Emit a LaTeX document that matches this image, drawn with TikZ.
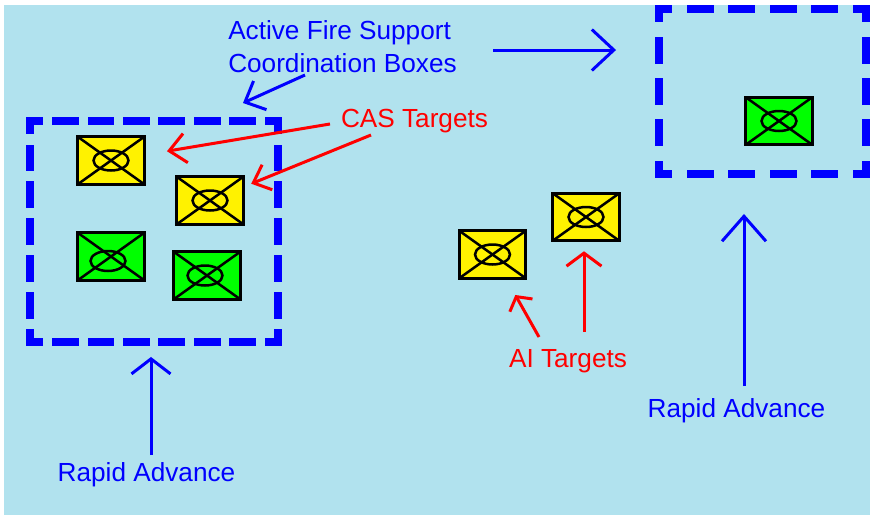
\documentclass[tikz,border=0pt]{standalone}
\usepackage{fontspec}
\setmainfont{Liberation Sans}
\usetikzlibrary{arrows.meta}
\definecolor{skyground}{RGB}{177,226,238}

\begin{document}
\begin{tikzpicture}[x=0.02cm,y=-0.02cm,
  unit/.style={draw,line width=0.6mm,inner sep=0,minimum width=13.3mm,minimum height=9.5mm,
    path picture={
      \draw[line width=0.5mm](path picture bounding box.north west)--(path picture bounding box.south east);
      \draw[line width=0.5mm](path picture bounding box.south west)--(path picture bounding box.north east);
      \draw[line width=0.5mm]([shift={(#1)}]path picture bounding box.center) ellipse (3.5mm and 2mm);
    }},
  unit/.default={0,0},
  fscb/.style={blue,line width=1.6mm,line cap=rect},
  dashlong/.style={dash pattern=on 3.74mm off #1,dash phase=1.87mm},
  txt/.style={font=\fontsize{14.9}{18.7}\selectfont,inner sep=0,align=left},
  barb/.style 2 args={-{Straight Barb[length=#1,width=#2]},line width=0.6mm}
  ]
  \useasboundingbox (0,0) rectangle (870,515);
  \fill[skyground] (4,5) rectangle (870,515);

  \node[minimum width=4.96cm,minimum height=4.42cm,inner sep=0,outer sep=0] (boxL) at (154,231.5){};
  \node[minimum width=4.14cm,minimum height=3.3cm,inner sep=0,outer sep=0] (boxR) at (762.5,91.5){};
  % sides one by one, so every corner stays whole
  \draw[fscb,dashlong=3.35mm](boxL.north west)--(boxL.north east);
  \draw[fscb,dashlong=3.35mm](boxL.south west)--(boxL.south east);
  \draw[fscb,dashlong=3.63mm](boxL.north west)--(boxL.south west);
  \draw[fscb,dashlong=3.63mm](boxL.north east)--(boxL.south east);
  \draw[fscb,dashlong=4.54mm](boxR.north west)--(boxR.north east);
  \draw[fscb,dashlong=4.54mm](boxR.south west)--(boxR.south east);
  \draw[fscb,dashlong=4.51mm](boxR.north west)--(boxR.south west);
  \draw[fscb,dashlong=4.51mm](boxR.north east)--(boxR.south east);

  \node[unit,fill=yellow] (unitA) at (111,160.5){};
  \node[unit,fill=yellow] (unitB) at (210,200.5){};
  \node[unit={-3,4.5},fill=green] (unitC) at (111,256.5){};
  \node[unit={-2,0},fill=green] (unitD) at (207,275.5){};
  \node[unit,fill=green] (unitE) at (779,121){};
  \node[unit,fill=yellow] (unitF) at (492.5,254.5){};
  \node[unit,fill=yellow] (unitG) at (586,217){};

  \node[txt,blue] (fires) at (342.5,47) {Active Fire Support\\Coordination Boxes};
  \node[txt,red] (cas) at (414.5,121) {CAS Targets};
  \node[txt,red] (ai) at (568,361) {AI Targets};
  \node[txt,blue] (rapidL) at (146.5,475) {Rapid Advance};
  \node[txt,blue] (rapidR) at (736.5,411) {Rapid Advance};

  \coordinate (firesR) at (493,50);
  \coordinate (firesD) at (305,75);
  \coordinate (firesTip) at (243,103);
  \coordinate (casA) at (330,124);
  \coordinate (casB) at (371,135);
  \coordinate (aiF) at (539,337);
  \coordinate (aiG) at (584,332);
  \coordinate (rapidTailL) at (151,455);
  \coordinate (rapidTailR) at (744,386);

  \draw[blue,barb={4.4mm}{8.2mm},shorten >=8.6mm](firesR)--(firesR-|boxR.west);
  \draw[blue,barb={3.3mm}{6.3mm}](firesD)--(firesTip);
  \draw[blue,barb={3mm}{7.8mm},shorten >=3mm](rapidTailL)--(rapidTailL|-boxL.south);
  \draw[blue,barb={5mm}{8.8mm},shorten >=8mm](rapidTailR)--(rapidTailR|-boxR.south);

  \draw[red,barb={3.3mm}{5.9mm},shorten >=4.3mm](casA)--(unitA);
  \draw[red,barb={3mm}{5.4mm},shorten >=1.4mm](casB)--(unitB);
  \draw[red,barb={2mm}{5.2mm},shorten >=3.5mm](aiF)--(unitF);
  \draw[red,barb={2.6mm}{7mm},shorten >=1.8mm](aiG)--(aiG|-unitG.south);
\end{tikzpicture}
\end{document}
